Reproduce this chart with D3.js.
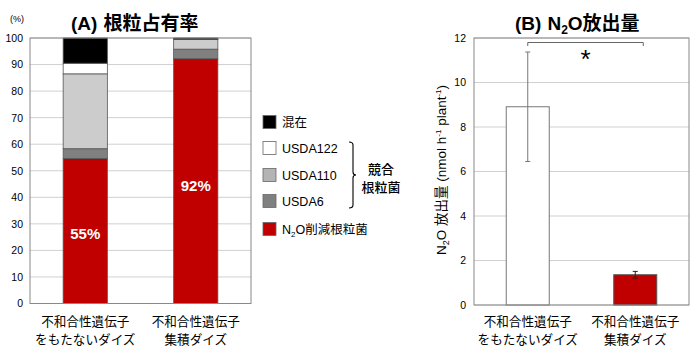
<!DOCTYPE html>
<html><head><meta charset="utf-8">
<script src="https://cdn.jsdelivr.net/npm/d3@7"></script>
<style>body{margin:0;background:#fff}svg{display:block}</style>
</head><body>
<svg id="c" width="700" height="358"></svg>
<script>
// ---- data ----
const categories = ["不和合性遺伝子\nをもたないダイズ", "不和合性遺伝子\n集積ダイズ"];
const seriesA = ["N2O削減根粒菌", "USDA6", "USDA110", "USDA122", "混在"];
const valuesN2O = [54.6, 92.2];
const valuesUSDA6 = [3.7, 3.6];
const valuesUSDA110 = [28.2, 3.6];
const valuesUSDA122 = [4.0, 0.1];
const valuesMixed = [9.5, 0.5];
const labelsA = ["55%", "92%"];
const ticksA = [0,10,20,30,40,50,60,70,80,90,100];
const emission = [8.91, 1.36];
const emissionErr = [2.46, 0.15];
const ticksB = [0,2,4,6,8,10,12];

const colors = {"N2O削減根粒菌":"#c00000","USDA6":"#808080","USDA110":"#cccccc","USDA122":"#ffffff","混在":"#000000"};
const JP = "'Noto Sans CJK JP','Noto Sans',sans-serif";
const AR = "'Liberation Sans',Arial,sans-serif";
const svg = d3.select("#c");

// ---- Chart A ----
const A = {l:30, r:251, t:38, b:303.5};
const xA = d3.scaleBand().domain(categories).range([A.l, A.r]).paddingInner(0.6).paddingOuter(0.3);
const yA = d3.scaleLinear().domain([0,100]).range([A.b, A.t]);
const gA = svg.append("g");
gA.selectAll("line.grid").data(ticksA).join("line")
  .attr("x1",A.l).attr("x2",A.r).attr("y1",d=>yA(d)).attr("y2",d=>yA(d))
  .attr("stroke","#d0d0d0").attr("stroke-width",1);
const rowsA = categories.map((c,i)=>({cat:c,"N2O削減根粒菌":valuesN2O[i],"USDA6":valuesUSDA6[i],"USDA110":valuesUSDA110[i],"USDA122":valuesUSDA122[i],"混在":valuesMixed[i]}));
const stack = d3.stack().keys(seriesA)(rowsA);
stack.forEach(s=>{
  gA.selectAll(null).data(s).join("rect")
    .attr("x",d=>xA(d.data.cat)).attr("width",xA.bandwidth())
    .attr("y",d=>yA(d[1])).attr("height",d=>yA(d[0])-yA(d[1]))
    .attr("fill",colors[s.key]).attr("stroke","#555").attr("stroke-width",0.8);
});
gA.append("rect").attr("x",A.l).attr("y",A.t).attr("width",A.r-A.l).attr("height",A.b-A.t)
  .attr("fill","none").attr("stroke","#888").attr("stroke-width",1);
const axA = gA.append("g").attr("transform",`translate(${A.l},0)`)
  .call(d3.axisLeft(yA).tickValues(ticksA).tickSize(0).tickPadding(7));
axA.select(".domain").remove();
axA.selectAll("text").attr("font-family",AR).attr("font-size",10.5).attr("fill","#000");
gA.append("text").attr("x",10).attr("y",22).text("(%)").attr("font-family",AR).attr("font-size",9);
const tA=gA.append("text").attr("x",71).attr("y",30).attr("font-weight","bold").attr("font-size",19);
tA.append("tspan").text("(A)").attr("font-family",AR);
tA.append("tspan").text("根粒占有率").attr("font-family",JP).attr("dx",6);
gA.selectAll("text.pct").data(categories).join("text")
  .attr("x",d=>xA(d)+xA.bandwidth()/2).attr("y",(d,i)=>yA(valuesN2O[i]*0.48))
  .attr("text-anchor","middle").attr("dy","0.35em").text((d,i)=>labelsA[i])
  .attr("fill","#fff").attr("font-family",AR).attr("font-weight","bold").attr("font-size",15);
function xlabels(g, x){
  categories.forEach(c=>{
    const lines=c.split("\n");
    lines.forEach((ln,j)=>g.append("text").attr("x",x(c)+x.bandwidth()/2).attr("y",326+j*18.3)
      .attr("text-anchor","middle").text(ln).attr("font-family",JP).attr("font-size",12.6));
  });
}
xlabels(gA, xA);

// ---- Legend ----
const legendOrder = ["混在","USDA122","USDA110","USDA6","N2O削減根粒菌"];
const legendY = [122,148,175,201,229];
const gL = svg.append("g");
legendOrder.forEach((k,i)=>{
  gL.append("rect").attr("x",263).attr("y",legendY[i]-6.5).attr("width",13).attr("height",13)
    .attr("fill", k==="USDA110"?"#b4b4b4":colors[k]).attr("stroke","#666").attr("stroke-width",0.8);
  if(k==="N2O削減根粒菌"){
    const t=gL.append("text").attr("x",282).attr("y",legendY[i]+4.5).attr("font-size",12.5).attr("font-family",AR);
    t.append("tspan").text("N");
    t.append("tspan").text("2").attr("font-size",8).attr("dy",3);
    t.append("tspan").text("O").attr("dy",-3);
    t.append("tspan").text("削減根粒菌").attr("font-family",JP);
  } else {
    gL.append("text").attr("x",282).attr("y",legendY[i]+4.5).text(k)
      .attr("font-size",12.5).attr("font-family",k==="混在"?JP:AR);
  }
});
gL.append("path").attr("d","M349,142 Q353,142 353,145 L353,172 Q353,175 356,175 Q353,175 353,178 L353,205 Q353,208 349,208")
  .attr("fill","none").attr("stroke","#000").attr("stroke-width",1.1);
gL.append("text").attr("x",381).attr("y",174).attr("text-anchor","middle").text("競合").attr("font-family",JP).attr("font-size",13).attr("font-weight",500);
gL.append("text").attr("x",381).attr("y",192).attr("text-anchor","middle").text("根粒菌").attr("font-family",JP).attr("font-size",13).attr("font-weight",500);

// ---- Chart B ----
const B = {l:474, r:689, t:38, b:305};
const xB = d3.scaleBand().domain(categories).range([B.l, B.r]).paddingInner(0.6).paddingOuter(0.3);
const yB = d3.scaleLinear().domain([0,12]).range([B.b, B.t]);
const gB = svg.append("g");
gB.selectAll("line.grid").data(ticksB).join("line")
  .attr("x1",B.l).attr("x2",B.r).attr("y1",d=>yB(d)).attr("y2",d=>yB(d))
  .attr("stroke","#d0d0d0").attr("stroke-width",1);
gB.selectAll("rect.bar").data(categories).join("rect")
  .attr("x",d=>xB(d)).attr("width",xB.bandwidth())
  .attr("y",(d,i)=>yB(emission[i])).attr("height",(d,i)=>yB(0)-yB(emission[i]))
  .attr("fill",(d,i)=>i===0?"#fff":"#c00000").attr("stroke",(d,i)=>i===0?"#777":"#555").attr("stroke-width",1);
gB.append("rect").attr("x",B.l).attr("y",B.t).attr("width",B.r-B.l).attr("height",B.b-B.t)
  .attr("fill","none").attr("stroke","#888").attr("stroke-width",1);
categories.forEach((c,i)=>{
  const cx=xB(c)+xB.bandwidth()/2, hi=yB(emission[i]+emissionErr[i]), lo=yB(emission[i]-emissionErr[i]);
  const col=i===0?"#777":"#222";
  gB.append("line").attr("x1",cx).attr("x2",cx).attr("y1",hi).attr("y2",lo).attr("stroke",col).attr("stroke-width",1);
  [hi,lo].forEach(y=>gB.append("line").attr("x1",cx-2.5).attr("x2",cx+2.5).attr("y1",y).attr("y2",y).attr("stroke",col).attr("stroke-width",1));
});
const axB = gB.append("g").attr("transform",`translate(${B.l},0)`)
  .call(d3.axisLeft(yB).tickValues(ticksB).tickSize(0).tickPadding(8));
axB.select(".domain").remove();
axB.selectAll("text").attr("font-family",AR).attr("font-size",10.5).attr("fill","#000");
// significance
const c1=xB(categories[0])+xB.bandwidth()/2, c2=xB(categories[1])+xB.bandwidth()/2+8;
gB.append("path").attr("d",`M${c1},46 L${c1},42.5 L${c2},42.5 L${c2},46`).attr("fill","none").attr("stroke","#666").attr("stroke-width",1);
gB.append("text").attr("x",(c1+c2)/2).attr("y",68).attr("text-anchor","middle").text("*")
  .attr("font-family",AR).attr("font-size",26);
// title
const tB=gB.append("text").attr("x",515).attr("y",30).attr("font-weight","bold").attr("font-size",19).attr("font-family",AR);
tB.append("tspan").text("(B)");
tB.append("tspan").text("N").attr("dx",6);
tB.append("tspan").text("2").attr("font-size",12).attr("dy",4);
tB.append("tspan").text("O").attr("dy",-4);
tB.append("tspan").text("放出量").attr("font-family",JP);
// y label
const yl=gB.append("text").attr("transform","translate(446,170) rotate(-90)").attr("text-anchor","middle")
  .attr("font-family",AR).attr("font-size",13.5);
yl.append("tspan").text("N");
yl.append("tspan").text("2").attr("font-size",9).attr("dy",3);
yl.append("tspan").text("O ").attr("dy",-3);
yl.append("tspan").text("放出量").attr("font-family",JP);
yl.append("tspan").text(" (nmol h");
yl.append("tspan").text("-1").attr("font-size",8).attr("dy",-5);
yl.append("tspan").text(" plant").attr("dy",5);
yl.append("tspan").text("-1").attr("font-size",8).attr("dy",-5);
yl.append("tspan").text(")").attr("dy",5);
xlabels(gB, xB);
</script>
</body></html>
